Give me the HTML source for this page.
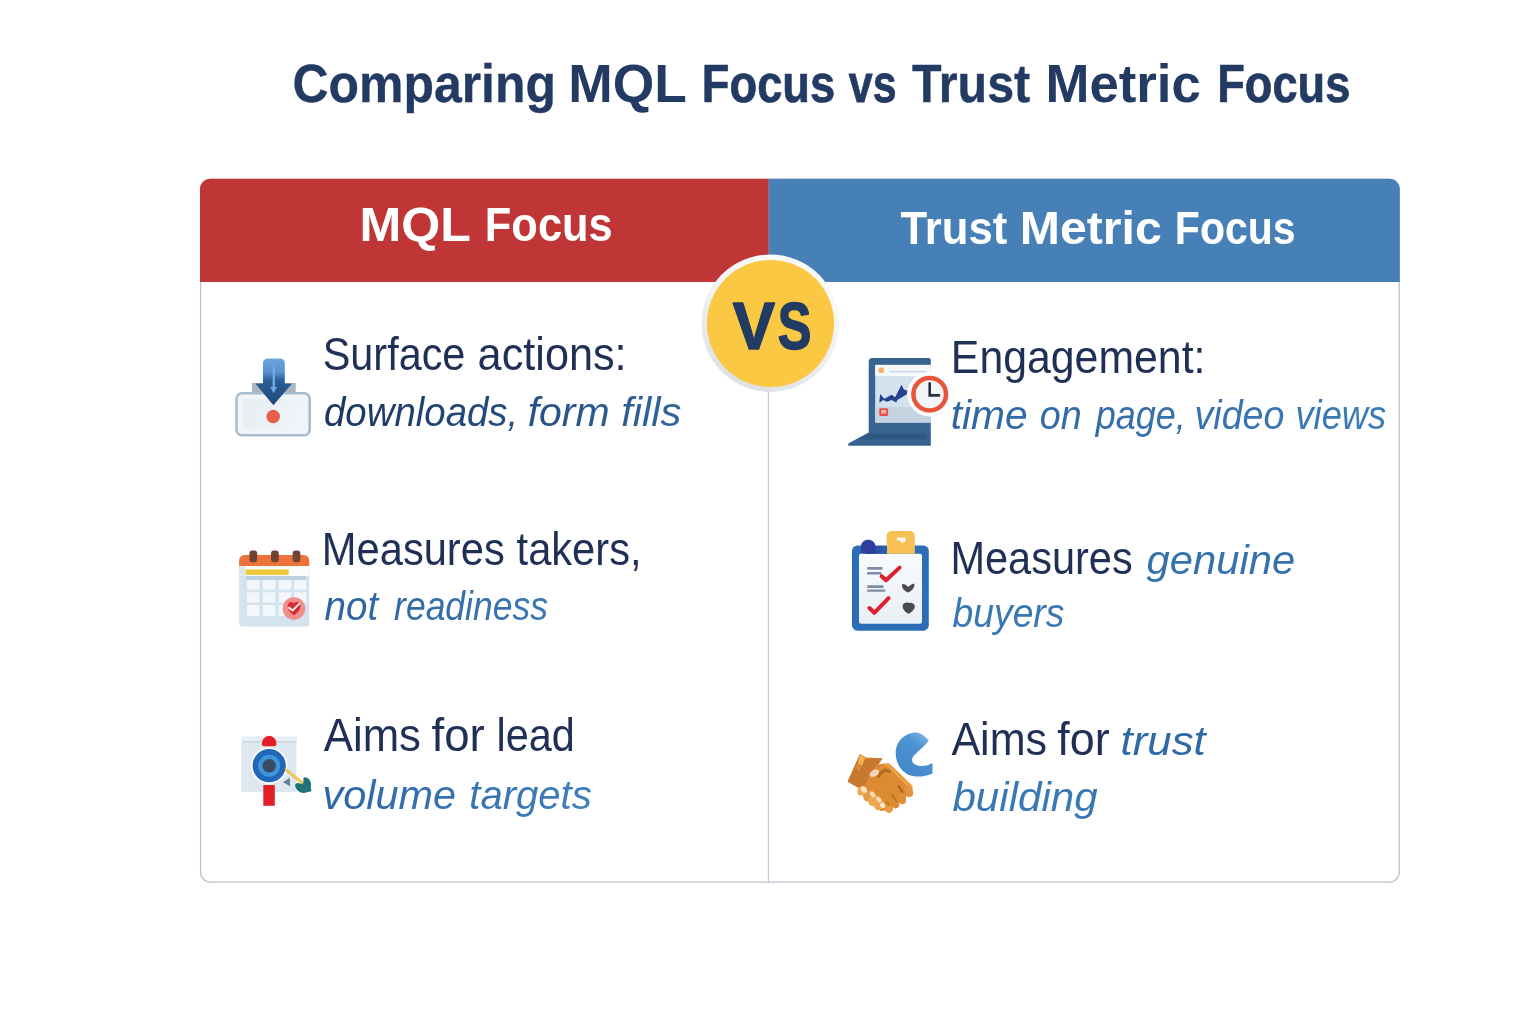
<!DOCTYPE html>
<html lang="en"><head><meta charset="utf-8"><title>Comparing MQL Focus vs Trust Metric Focus</title>
<style>
html,body{margin:0;padding:0;background:#ffffff;}
body{width:1536px;height:1024px;overflow:hidden;}
svg{display:block;}
svg text{font-family:"Liberation Sans",sans-serif;white-space:pre;}
</style></head>
<body>
<svg width="1536" height="1024" viewBox="0 0 1536 1024" role="img" aria-label="Comparing MQL Focus vs Trust Metric Focus">
<defs>
<linearGradient id="g1" gradientUnits="userSpaceOnUse" x1="325" y1="0" x2="680" y2="0"><stop offset="0" stop-color="#1c3560"/><stop offset="1" stop-color="#2f659f"/></linearGradient>
<linearGradient id="g2" gradientUnits="userSpaceOnUse" x1="325" y1="0" x2="548" y2="0"><stop offset="0" stop-color="#2d62a0"/><stop offset="1" stop-color="#3b79b6"/></linearGradient>
<linearGradient id="g3" gradientUnits="userSpaceOnUse" x1="325" y1="0" x2="590" y2="0"><stop offset="0" stop-color="#2f67a6"/><stop offset="1" stop-color="#3f7fbb"/></linearGradient>
<linearGradient id="g4" gradientUnits="userSpaceOnUse" x1="953" y1="0" x2="1385" y2="0"><stop offset="0" stop-color="#2f66a3"/><stop offset="1" stop-color="#3d7bb7"/></linearGradient>
</defs>

<g id="frame">
<defs>
<linearGradient id="ringG" x1="800" y1="260" x2="735" y2="390" gradientUnits="userSpaceOnUse"><stop offset="0" stop-color="#fbfbfc"/><stop offset="0.45" stop-color="#f1f2f4"/><stop offset="1" stop-color="#dcdfe4"/></linearGradient>
</defs>
<rect x="200.6" y="179.5" width="1198.6" height="702.7" rx="10" ry="10" fill="#ffffff" stroke="#bac4d1" stroke-width="1.3"/>
<path d="M200 282 V188.75 a10 10 0 0 1 10 -10 H768.8 V282 Z" fill="#c03535"/>
<path d="M768.8 178.75 H1389.8 a10 10 0 0 1 10 10 V282 H768.8 Z" fill="#4680b6"/>
<line x1="768.4" y1="282" x2="768.4" y2="882" stroke="#c3cbd7" stroke-width="1.3"/>
<circle cx="770.3" cy="323.2" r="68.7" fill="url(#ringG)"/>
<circle cx="770.5" cy="323.5" r="63.6" fill="#fbc843"/>
</g>

<g id="icons">
<!-- icon 1: download tray -->
<g id="ic-download">
<defs>
<linearGradient id="arrG" x1="0" y1="358" x2="0" y2="405" gradientUnits="userSpaceOnUse"><stop offset="0" stop-color="#6ea4df"/><stop offset="0.3" stop-color="#5a90d0"/><stop offset="0.48" stop-color="#2c5d96"/><stop offset="1" stop-color="#1d4877"/></linearGradient>
<linearGradient id="trayG" x1="235" y1="392" x2="311" y2="437" gradientUnits="userSpaceOnUse"><stop offset="0" stop-color="#e4ebf1"/><stop offset="1" stop-color="#f3f7fa"/></linearGradient>
</defs>
<rect x="252" y="383" width="43.7" height="11" fill="#aab5be"/>
<rect x="236.5" y="393.3" width="73.2" height="42" rx="5.5" fill="#f1f5f8" stroke="#a9bccb" stroke-width="2.6"/>
<rect x="243" y="399" width="60.5" height="30" rx="1.5" fill="url(#trayG)"/>
<path d="M263 383.6 V363 a4.6 4.6 0 0 1 4.6 -4.6 H280.2 a4.6 4.6 0 0 1 4.6 4.6 V383.6 H292 L273.4 405.2 L255.4 383.6 Z" fill="url(#arrG)"/>
<path d="M272.6 365 h2.4 v22 h2.2 l-3.6 6.2 l-3.4 -6.2 h2.4 z" fill="#6caae0"/>
<circle cx="273.2" cy="416.5" r="6.8" fill="#e8604a"/>
</g>

<!-- icon 2: calendar -->
<g id="ic-calendar">
<rect x="239.1" y="560" width="70.1" height="66.5" rx="3" fill="#d5e3ee"/>
<rect x="239.1" y="566" width="70.1" height="10" fill="#dfe8ee"/><rect x="245.8" y="566" width="63.4" height="10" fill="#f9fbfd"/>
<path d="M239.1 566 V560.4 a5.5 5.5 0 0 1 5.5 -5.5 H303.7 a5.5 5.5 0 0 1 5.5 5.5 V566 Z" fill="#ee733a"/>
<rect x="249.4" y="550.4" width="7.8" height="11.8" rx="3" fill="#6e4535"/>
<rect x="271" y="550.4" width="7.8" height="11.8" rx="3" fill="#6e4535"/>
<rect x="292.6" y="550.4" width="7.8" height="11.8" rx="3" fill="#6e4535"/>
<rect x="245.8" y="569.5" width="42.9" height="5.4" fill="#f0c93a"/>
<rect x="245.8" y="576" width="60.2" height="3.6" fill="#b8d0e0"/>
<g fill="#f2f7fb">
<rect x="247.1" y="580.3" width="12.3" height="9.3"/><rect x="263" y="580.3" width="12.3" height="9.3"/><rect x="278.9" y="580.3" width="12.3" height="9.3"/><rect x="294.1" y="580.3" width="12.3" height="9.3"/>
<rect x="247.1" y="592.3" width="12.3" height="10.2"/><rect x="263" y="592.3" width="12.3" height="10.2"/><rect x="278.9" y="592.3" width="12.3" height="10.2"/><rect x="294.1" y="592.3" width="12.3" height="10.2"/>
<rect x="247.1" y="605" width="12.3" height="11"/><rect x="263" y="605" width="12.3" height="11"/><rect x="278.9" y="605" width="12.3" height="11"/>
</g>
<circle cx="293.9" cy="608.6" r="11.3" fill="#f08f8c"/>
<path d="M287.6 606 c0 -4.5 4.5 -5.2 6.3 -2.6 c1.8 -2.6 6.6 -1.9 6.6 2.6 c0 4.4 -4 7.4 -6.5 9.3 c-2.6 -1.9 -6.4 -4.9 -6.4 -9.3 z" fill="#d42b35"/>
<path d="M289 607.6 l3.6 2.9 l6.6 -6.6" fill="none" stroke="#fbeaea" stroke-width="2" stroke-linecap="round" stroke-linejoin="round"/>
</g>

<!-- icon 3: target -->
<g id="ic-target">
<rect x="241.3" y="736.8" width="55.2" height="55.3" rx="1" fill="#dde8f0"/>
<rect x="241.3" y="736.8" width="55.2" height="5" fill="#e8eff5"/>
<rect x="243" y="741.4" width="53.5" height="0.9" fill="#b9c6d1"/>
<rect x="263.3" y="785" width="11.5" height="20.8" fill="#e21f26"/>
<path d="M261.9 744 c0 -4.6 3.4 -8.2 7.3 -8.2 c3.9 0 7.2 3.6 7.2 8.2 c0 1.4 -0.8 2.2 -2 2.2 h-10.5 c-1.2 0 -2 -0.8 -2 -2.2 z" fill="#e21f26"/>
<circle cx="269.2" cy="765.7" r="18.3" fill="#ffffff"/>
<circle cx="269.2" cy="765.7" r="16.6" fill="#2266b9"/>
<circle cx="269.2" cy="765.7" r="11" fill="#3f95dc"/>
<circle cx="269.2" cy="765.7" r="6.8" fill="#3a4a63"/>
<path d="M283.09 782.15 L289.63 777.85 L290.12 786.35 Z" fill="#4f6c7e" opacity="0.85"/>
<path d="M284.31 768.57 L287.09 768.92 L304.18 782.59 L301.98 784.54 L285.87 771.36 Z" fill="#edba35"/>
<path d="M286.60 769.65 L302.23 783.08" stroke="#f6d768" stroke-width="0.9" stroke-linecap="round"/>
<path d="M303.45 778.19 Q303.69 776.97 306.13 777.46 Q308.57 777.95 309.92 780.15 Q311.26 782.34 310.94 785.52 Q310.62 788.69 311.31 790.03 Q311.99 791.38 310.53 791.38 Q309.06 791.38 307.60 792.04 Q306.13 792.70 304.18 793.01 Q302.23 793.33 299.79 791.99 Q297.34 790.64 296.12 788.45 Q294.90 786.25 295.15 784.91 Q295.39 783.56 296.86 783.20 Q298.32 782.83 300.03 783.56 Q301.74 784.30 302.71 783.81 Q303.69 783.32 303.45 781.37 Q303.20 779.41 303.45 778.19 Z" fill="#227377"/>
</g>

<!-- icon 4: laptop + clock -->
<g id="ic-laptop">
<path d="M868.7 433 V361.6 a3.5 3.5 0 0 1 3.5 -3.5 H928.8 a2 2 0 0 1 2 2 V433 Z" fill="#3a6592"/>
<path d="M848.2 443.4 L869.1 432.3 H930.8 V445.8 H849.2 a1 1 0 0 1 -1 -1 Z" fill="#38628f"/>
<path d="M858 439.5 L868 434 H927 V439.5 Z" fill="#2f5783"/>
<rect x="875.2" y="364.9" width="55.6" height="57.7" fill="#d3e2ee"/>
<rect x="875.2" y="364.9" width="55.6" height="11.2" fill="#f6f9fc"/>
<rect x="875.2" y="407.1" width="55.6" height="15.5" fill="#c4d3df"/>
<circle cx="881.3" cy="370.2" r="2.9" fill="#f6b566"/>
<rect x="889.2" y="370.8" width="37.5" height="1.6" rx="0.8" fill="#c9d9e8"/>
<polygon points="879.3,402.7 880.1,394.0 884.5,398.7 891.6,394.8 895.1,397.2 901.5,384.8 903.9,389.5 907.4,390.7 906.8,394.2 897.4,400.1 896.3,402.4 891.6,400.1 886.9,401.8 883.4,400.1" fill="#23418f"/>
<rect x="879.3" y="408.3" width="8.8" height="7.6" rx="1" fill="#e0544b"/>
<rect x="881.3" y="410" width="4.8" height="3.6" rx="0.8" fill="#f3b3ab"/>
<ellipse cx="934" cy="412" rx="9" ry="3.5" fill="#dfe4ea"/>
<circle cx="929.7" cy="394.2" r="22.3" fill="#fbfcfd"/>
<circle cx="929.7" cy="394.2" r="16.3" fill="#f2f6fa" stroke="#e8553b" stroke-width="4.5"/>
<path d="M929.7 383.4 V395.4 H939" fill="none" stroke="#2b2f3a" stroke-width="2.6" stroke-linecap="round" stroke-linejoin="miter"/>
</g>

<!-- icon 5: clipboard -->
<g id="ic-clipboard">
<defs><linearGradient id="papG" x1="0" y1="554" x2="0" y2="624" gradientUnits="userSpaceOnUse"><stop offset="0" stop-color="#f8fafd"/><stop offset="1" stop-color="#e9eff6"/></linearGradient></defs>
<rect x="852" y="545.5" width="76.8" height="85.2" rx="5.5" fill="#2c6db8"/>
<rect x="859" y="553.8" width="63" height="69.9" rx="2" fill="url(#papG)"/>
<path d="M886.6 553.8 V536 a5 5 0 0 1 5 -5 H909.9 a5 5 0 0 1 5 5 V553.8 Z" fill="#f6c055"/>
<path d="M896.8 537.4 h8.8 v3.4 l-1.6 2 h-2.6 l-1.4 -2.4 h-3.2 z" fill="#fdf6e6"/>
<defs><linearGradient id="bandG" x1="866" y1="0" x2="888" y2="0" gradientUnits="userSpaceOnUse"><stop offset="0" stop-color="#2f3e9c"/><stop offset="1" stop-color="#2b62ad"/></linearGradient></defs><rect x="866" y="546" width="21" height="7.8" fill="url(#bandG)"/>
<path d="M861 552.6 V546.6 c0 -9 14.4 -9 14.4 0 V552.6 c-3 1.9 -11.4 1.9 -14.4 0 z" fill="#2f3e9c"/>
<g fill="#7c8da3">
<rect x="867.2" y="566.9" width="15.3" height="2.8" rx="0.6"/><rect x="867.2" y="572" width="14" height="2.5" rx="0.6"/>
<rect x="867.2" y="585.3" width="16.4" height="2.6" rx="0.6"/><rect x="867.2" y="589.6" width="18" height="2.2" rx="0.6"/>
</g>
<path d="M881.6 576.2 L886 580.2 L899.6 567.6" fill="none" stroke="#e0202a" stroke-width="4" stroke-linecap="round" stroke-linejoin="round"/>
<path d="M869.4 608 L874.3 612.8 L888.6 598.2" fill="none" stroke="#e0202a" stroke-width="4" stroke-linecap="round" stroke-linejoin="round"/>
<path d="M902.2 584.4 c1.6 -1 3.6 0.6 6 2.4 c2.4 -2 4.4 -3.6 6 -3 c1 3 -1.6 7 -6 8.6 c-4.2 -1.4 -7 -5 -6 -8 z" fill="#4b4b4d"/>
<path d="M902.6 606.4 c0 -3.6 4 -4.4 6 -3.4 c2 -1 6.2 0 6.2 3.4 c0 3.2 -3.4 5.8 -6.2 7.4 c-2.8 -1.6 -6 -4.2 -6 -7.4 z" fill="#4b4b4d"/>
</g>

<!-- icon 6: handshake -->
<g id="ic-handshake">
<defs><linearGradient id="cG" x1="896" y1="776" x2="930" y2="734" gradientUnits="userSpaceOnUse"><stop offset="0" stop-color="#3f86c8"/><stop offset="0.7" stop-color="#4f94d2"/><stop offset="1" stop-color="#86bdea"/></linearGradient></defs>
<path d="M 928.8 740.5 C 925.2 736.7 921.1 732.8 915.9 732.6 C 905.3 732.6 895.7 741.4 895.7 753.1 C 895.7 766.6 905.3 776.5 917.0 776.5 C 922.9 776.5 928.8 775.4 932.5 773.4 L 932.5 763.0 C 927.6 766.0 919.4 767.2 914.7 764.2 C 911.2 761.9 911.2 758.4 914.7 754.8 C 919.4 750.2 925.2 745.5 928.8 740.5 Z" fill="url(#cG)"/>
<polygon points="860.1,754.5 866.2,758.1 882.0,758.7 877.5,765.0 871.7,771.3 865.9,786.1 858.8,787.7 848.0,781.6" fill="#c8792e" stroke="#c8792e" stroke-width="1" stroke-linejoin="round"/>
<polygon points="860.1,754.6 865.4,758.1 861.5,766.1 857.8,763.3" fill="#f2b24f"/>
<polygon points="857.2,764.3 860.9,767.3 859.3,770.5 855.6,767.5" fill="#d98f3e"/>
<polygon points="877.5,765.0 883.3,764.1 889.1,763.9 911.7,785.5 912.1,794.5 908.8,796.7 905.6,795.4 904.9,802.2 902.0,803.8 899.1,801.9 898.5,806.7 895.6,808.3 893.1,806.4 892.3,809.9 889.1,812.2 885.3,809.9 880.1,810.6 876.2,806.1 871.1,804.8 869.8,799.6 864.6,799.6 864.0,795.1 858.8,794.5 857.9,791.3 860.1,787.7 865.3,786.1 869.8,777.1" fill="#dc8b33" stroke="#dc8b33" stroke-width="1" stroke-linejoin="round"/>
<polygon points="883.3,764.1 889.1,763.9 911.7,785.5 911.8,788.7 909.1,788.0 888.5,767.4" fill="#eb9f43" stroke="#eb9f43" stroke-width="0.6" stroke-linejoin="round"/>
<path d="M878.5 776.1 C881.4 771.3 885.3 768.7 889.4 771.6" fill="none" stroke="#b96a23" stroke-width="3.4" stroke-linecap="round"/>
<ellipse cx="874.3" cy="773.2" rx="5.2" ry="3.1" transform="rotate(-28 874.3 773.2)" fill="#f3d3b4"/>
<path d="M898.5 786.1 L902.3 791.9" stroke="#b4611d" stroke-width="2.2" stroke-linecap="round"/>
<path d="M892.0 794.5 L896.5 801.6" stroke="#c06e25" stroke-width="1.8" stroke-linecap="round"/>
<path d="M886.5 801.6 L890.4 806.7" stroke="#c06e25" stroke-width="1.4" stroke-linecap="round"/>
<ellipse cx="909.4" cy="791.9" rx="3.6" ry="5.2" transform="rotate(-20 909.4 791.9)" fill="#e2943d"/>
<ellipse cx="902.0" cy="799.0" rx="3.8" ry="5.4" transform="rotate(-20 902.0 799.0)" fill="#df9039"/>
<ellipse cx="862.4" cy="790.9" rx="5.0" ry="4.4" transform="rotate(40 862.4 790.9)" fill="#f3ab55"/>
<ellipse cx="868.2" cy="796.1" rx="4.6" ry="5.6" transform="rotate(35 868.2 796.1)" fill="#e99a45"/>
<ellipse cx="873.3" cy="800.0" rx="4.6" ry="6.0" transform="rotate(35 873.3 800.0)" fill="#f0a650"/>
<ellipse cx="879.1" cy="804.8" rx="4.6" ry="5.6" transform="rotate(35 879.1 804.8)" fill="#f0a650"/>
<ellipse cx="888.5" cy="809.0" rx="4.2" ry="3.6" transform="rotate(20 888.5 809.0)" fill="#e99a3f"/>
<ellipse cx="864.0" cy="789.6" rx="2.6" ry="3.6" transform="rotate(-35 864.0 789.6)" fill="#fbe2c6"/>
<ellipse cx="872.7" cy="794.5" rx="2.2" ry="3.4" transform="rotate(-35 872.7 794.5)" fill="#fbdcb8"/>
<ellipse cx="878.8" cy="799.6" rx="2.2" ry="3.2" transform="rotate(-35 878.8 799.6)" fill="#fbdcb8"/>
<ellipse cx="882.7" cy="805.4" rx="2.4" ry="2.8" transform="rotate(-30 882.7 805.4)" fill="#fdebd8"/>
</g>
</g>
</g>

<g id="labels">
<text id="title" y="101.60"><tspan x="292.42" textLength="263.60" lengthAdjust="spacingAndGlyphs" font-size="53" fill="#233a62" font-weight="700" stroke="#233a62" stroke-width="0.3" stroke-linejoin="round">Comparing</tspan> <tspan x="568.23" textLength="118.53" lengthAdjust="spacingAndGlyphs" font-size="53" fill="#233a62" font-weight="700">MQL</tspan> <tspan x="701.84" textLength="133.34" lengthAdjust="spacingAndGlyphs" font-size="53" fill="#233a62" font-weight="700" stroke="#233a62" stroke-width="0.7" stroke-linejoin="round">Focus</tspan> <tspan x="848.80" textLength="47.68" lengthAdjust="spacingAndGlyphs" font-size="53" fill="#233a62" font-weight="700" stroke="#233a62" stroke-width="0.8" stroke-linejoin="round">vs</tspan> <tspan x="911.90" textLength="118.33" lengthAdjust="spacingAndGlyphs" font-size="53" fill="#233a62" font-weight="700" stroke="#233a62" stroke-width="0.4" stroke-linejoin="round">Trust</tspan> <tspan x="1045.52" textLength="155.29" lengthAdjust="spacingAndGlyphs" font-size="53" fill="#233a62" font-weight="700">Metric</tspan> <tspan x="1217.24" textLength="133.03" lengthAdjust="spacingAndGlyphs" font-size="53" fill="#233a62" font-weight="700" stroke="#233a62" stroke-width="0.7" stroke-linejoin="round">Focus</tspan></text>
<text id="h1" y="241.25"><tspan x="359.43" textLength="111.47" lengthAdjust="spacingAndGlyphs" font-size="49" fill="#fff" font-weight="700">MQL</tspan> <tspan x="484.84" textLength="127.95" lengthAdjust="spacingAndGlyphs" font-size="49" fill="#fff" font-weight="700">Focus</tspan></text>
<text id="h2" y="244.20"><tspan x="900.40" textLength="106.90" lengthAdjust="spacingAndGlyphs" font-size="46.4" fill="#fff" font-weight="700">Trust</tspan> <tspan x="1019.78" textLength="141.92" lengthAdjust="spacingAndGlyphs" font-size="46.4" fill="#fff" font-weight="700">Metric</tspan> <tspan x="1174.85" textLength="120.79" lengthAdjust="spacingAndGlyphs" font-size="46.4" fill="#fff" font-weight="700">Focus</tspan></text>
<text id="vs" y="348.60"><tspan x="732.70" textLength="42.23" lengthAdjust="spacingAndGlyphs" font-size="66" fill="#223b63" font-weight="700" stroke="#223b63" stroke-width="1.6" stroke-linejoin="round">V</tspan><tspan x="777.64" textLength="33.61" lengthAdjust="spacingAndGlyphs" font-size="66" fill="#223b63" font-weight="700" stroke="#223b63" stroke-width="1.6" stroke-linejoin="round">S</tspan></text>
<text id="l1a" y="370.20"><tspan x="322.69" textLength="142.73" lengthAdjust="spacingAndGlyphs" font-size="45.8" fill="#1f2f55">Surface</tspan> <tspan x="477.61" textLength="149.02" lengthAdjust="spacingAndGlyphs" font-size="45.8" fill="#1f2f55">actions:</tspan></text>
<text id="l1b" y="426.00"><tspan x="324.04" textLength="194.16" lengthAdjust="spacingAndGlyphs" font-size="40" fill="url(#g1)" font-style="italic">downloads,</tspan> <tspan x="527.68" textLength="81.97" lengthAdjust="spacingAndGlyphs" font-size="40" fill="url(#g1)" font-style="italic">form</tspan> <tspan x="621.26" textLength="60.15" lengthAdjust="spacingAndGlyphs" font-size="40" fill="url(#g1)" font-style="italic">fills</tspan></text>
<text id="l2a" y="565.40"><tspan x="321.86" textLength="182.87" lengthAdjust="spacingAndGlyphs" font-size="45.8" fill="#1f2f55">Measures</tspan> <tspan x="516.59" textLength="124.94" lengthAdjust="spacingAndGlyphs" font-size="45.8" fill="#1f2f55">takers,</tspan></text>
<text id="l2b" y="620.20"><tspan x="324.54" textLength="53.62" lengthAdjust="spacingAndGlyphs" font-size="40" fill="url(#g2)" font-style="italic">not</tspan> <tspan x="394.11" textLength="153.77" lengthAdjust="spacingAndGlyphs" font-size="40" fill="url(#g2)" font-style="italic">readiness</tspan></text>
<text id="l3a" y="751.40"><tspan x="323.75" textLength="97.20" lengthAdjust="spacingAndGlyphs" font-size="45.8" fill="#1f2f55">Aims</tspan> <tspan x="431.50" textLength="53.20" lengthAdjust="spacingAndGlyphs" font-size="45.8" fill="#1f2f55">for</tspan> <tspan x="496.54" textLength="78.31" lengthAdjust="spacingAndGlyphs" font-size="45.8" fill="#1f2f55">lead</tspan></text>
<text id="l3b" y="808.60"><tspan x="322.43" textLength="133.56" lengthAdjust="spacingAndGlyphs" font-size="40" fill="url(#g3)" font-style="italic">volume</tspan> <tspan x="469.25" textLength="122.55" lengthAdjust="spacingAndGlyphs" font-size="40" fill="url(#g3)" font-style="italic">targets</tspan></text>
<text id="r1a" y="373.20"><tspan x="950.86" textLength="254.58" lengthAdjust="spacingAndGlyphs" font-size="45.8" fill="#1f2f55">Engagement:</tspan></text>
<text id="r1b" y="429.40"><tspan x="950.76" textLength="76.94" lengthAdjust="spacingAndGlyphs" font-size="40" fill="url(#g4)" font-style="italic">time</tspan> <tspan x="1039.76" textLength="41.96" lengthAdjust="spacingAndGlyphs" font-size="40" fill="url(#g4)" font-style="italic">on</tspan> <tspan x="1095.80" textLength="89.99" lengthAdjust="spacingAndGlyphs" font-size="40" fill="url(#g4)" font-style="italic">page,</tspan> <tspan x="1194.52" textLength="89.87" lengthAdjust="spacingAndGlyphs" font-size="40" fill="url(#g4)" font-style="italic">video</tspan> <tspan x="1295.49" textLength="90.65" lengthAdjust="spacingAndGlyphs" font-size="40" fill="url(#g4)" font-style="italic">views</tspan></text>
<text id="r2a" y="574.00"><tspan x="950.48" textLength="182.20" lengthAdjust="spacingAndGlyphs" font-size="45.8" fill="#1f2f55">Measures</tspan> <tspan x="1146.60" textLength="148.51" lengthAdjust="spacingAndGlyphs" font-size="41.5" fill="#3572ad" font-style="italic">genuine</tspan></text>
<text id="r2b" y="626.70"><tspan x="952.57" textLength="111.82" lengthAdjust="spacingAndGlyphs" font-size="40" fill="#3a78b4" font-style="italic">buyers</tspan></text>
<text id="r3a" y="755.00"><tspan x="951.40" textLength="95.67" lengthAdjust="spacingAndGlyphs" font-size="45.8" fill="#1f2f55">Aims</tspan> <tspan x="1057.32" textLength="52.32" lengthAdjust="spacingAndGlyphs" font-size="45.8" fill="#1f2f55">for</tspan> <tspan x="1120.51" textLength="85.27" lengthAdjust="spacingAndGlyphs" font-size="40" fill="#2f69a6" font-style="italic">trust</tspan></text>
<text id="r3b" y="811.40"><tspan x="952.45" textLength="145.24" lengthAdjust="spacingAndGlyphs" font-size="40" fill="#3a78b4" font-style="italic">building</tspan></text>
</g>
</svg>
</body></html>
